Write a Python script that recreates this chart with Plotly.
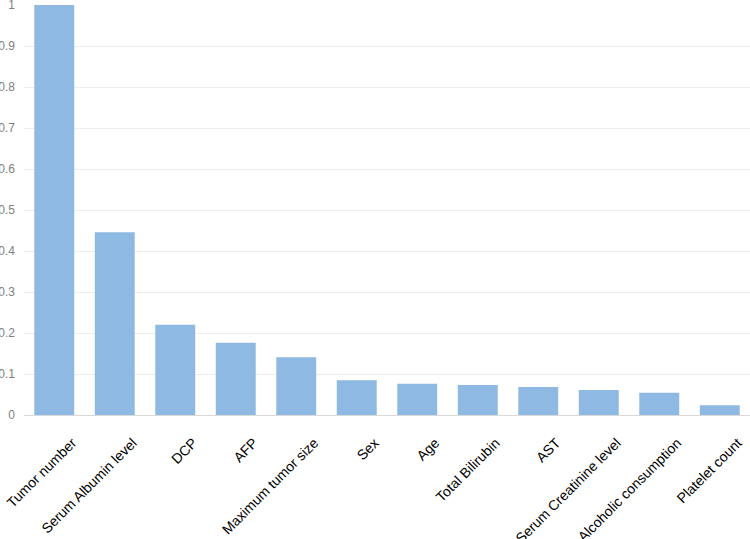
import plotly.graph_objects as go

categories = ["Tumor number", "Serum Albumin level", "DCP", "AFP", "Maximum tumor size",
              "Sex", "Age", "Total Bilirubin", "AST", "Serum Creatinine level",
              "Alcoholic consumption", "Platelet count"]
values = [1.0, 0.446, 0.22, 0.176, 0.141, 0.085, 0.076, 0.073, 0.068, 0.061, 0.054, 0.024]
y_ticks = [0, 0.1, 0.2, 0.3, 0.4, 0.5, 0.6, 0.7, 0.8, 0.9, 1]
y_labels = ["0", "0.1", "0.2", "0.3", "0.4", "0.5", "0.6", "0.7", "0.8", "0.9", "1"]

fig = go.Figure(go.Bar(
    x=categories, y=values,
    marker=dict(color="#8DB9E2", line=dict(width=0)),
    width=0.66,
))
fig.update_layout(
    width=750, height=539,
    margin=dict(l=24, r=0, t=5, b=124),
    paper_bgcolor="white", plot_bgcolor="white",
    font=dict(family="Liberation Sans, Arial, sans-serif"),
    showlegend=False,
)
fig.update_xaxes(
    tickangle=-45, tickfont=dict(size=14, color="#000000"),
    showgrid=False, showline=False, ticks="", automargin=False,
    ticklabelshift=18, ticklabelstandoff=16, ticklabeloverflow="allow",
)
fig.update_yaxes(
    range=[0, 1.0001], tickvals=y_ticks, ticktext=y_labels,
    tickfont=dict(size=12, color="#7F7F7F"),
    showgrid=True, gridcolor="#EDEDED", gridwidth=1,
    zeroline=True, zerolinecolor="#D9D9D9", zerolinewidth=1,
    showline=False, ticks="", automargin=False, ticklabelstandoff=8,
    ticklabeloverflow="allow",
)
fig.write_html("out.html", config={"displayModeBar": False},
               post_script="document.body.style.margin='0';")
